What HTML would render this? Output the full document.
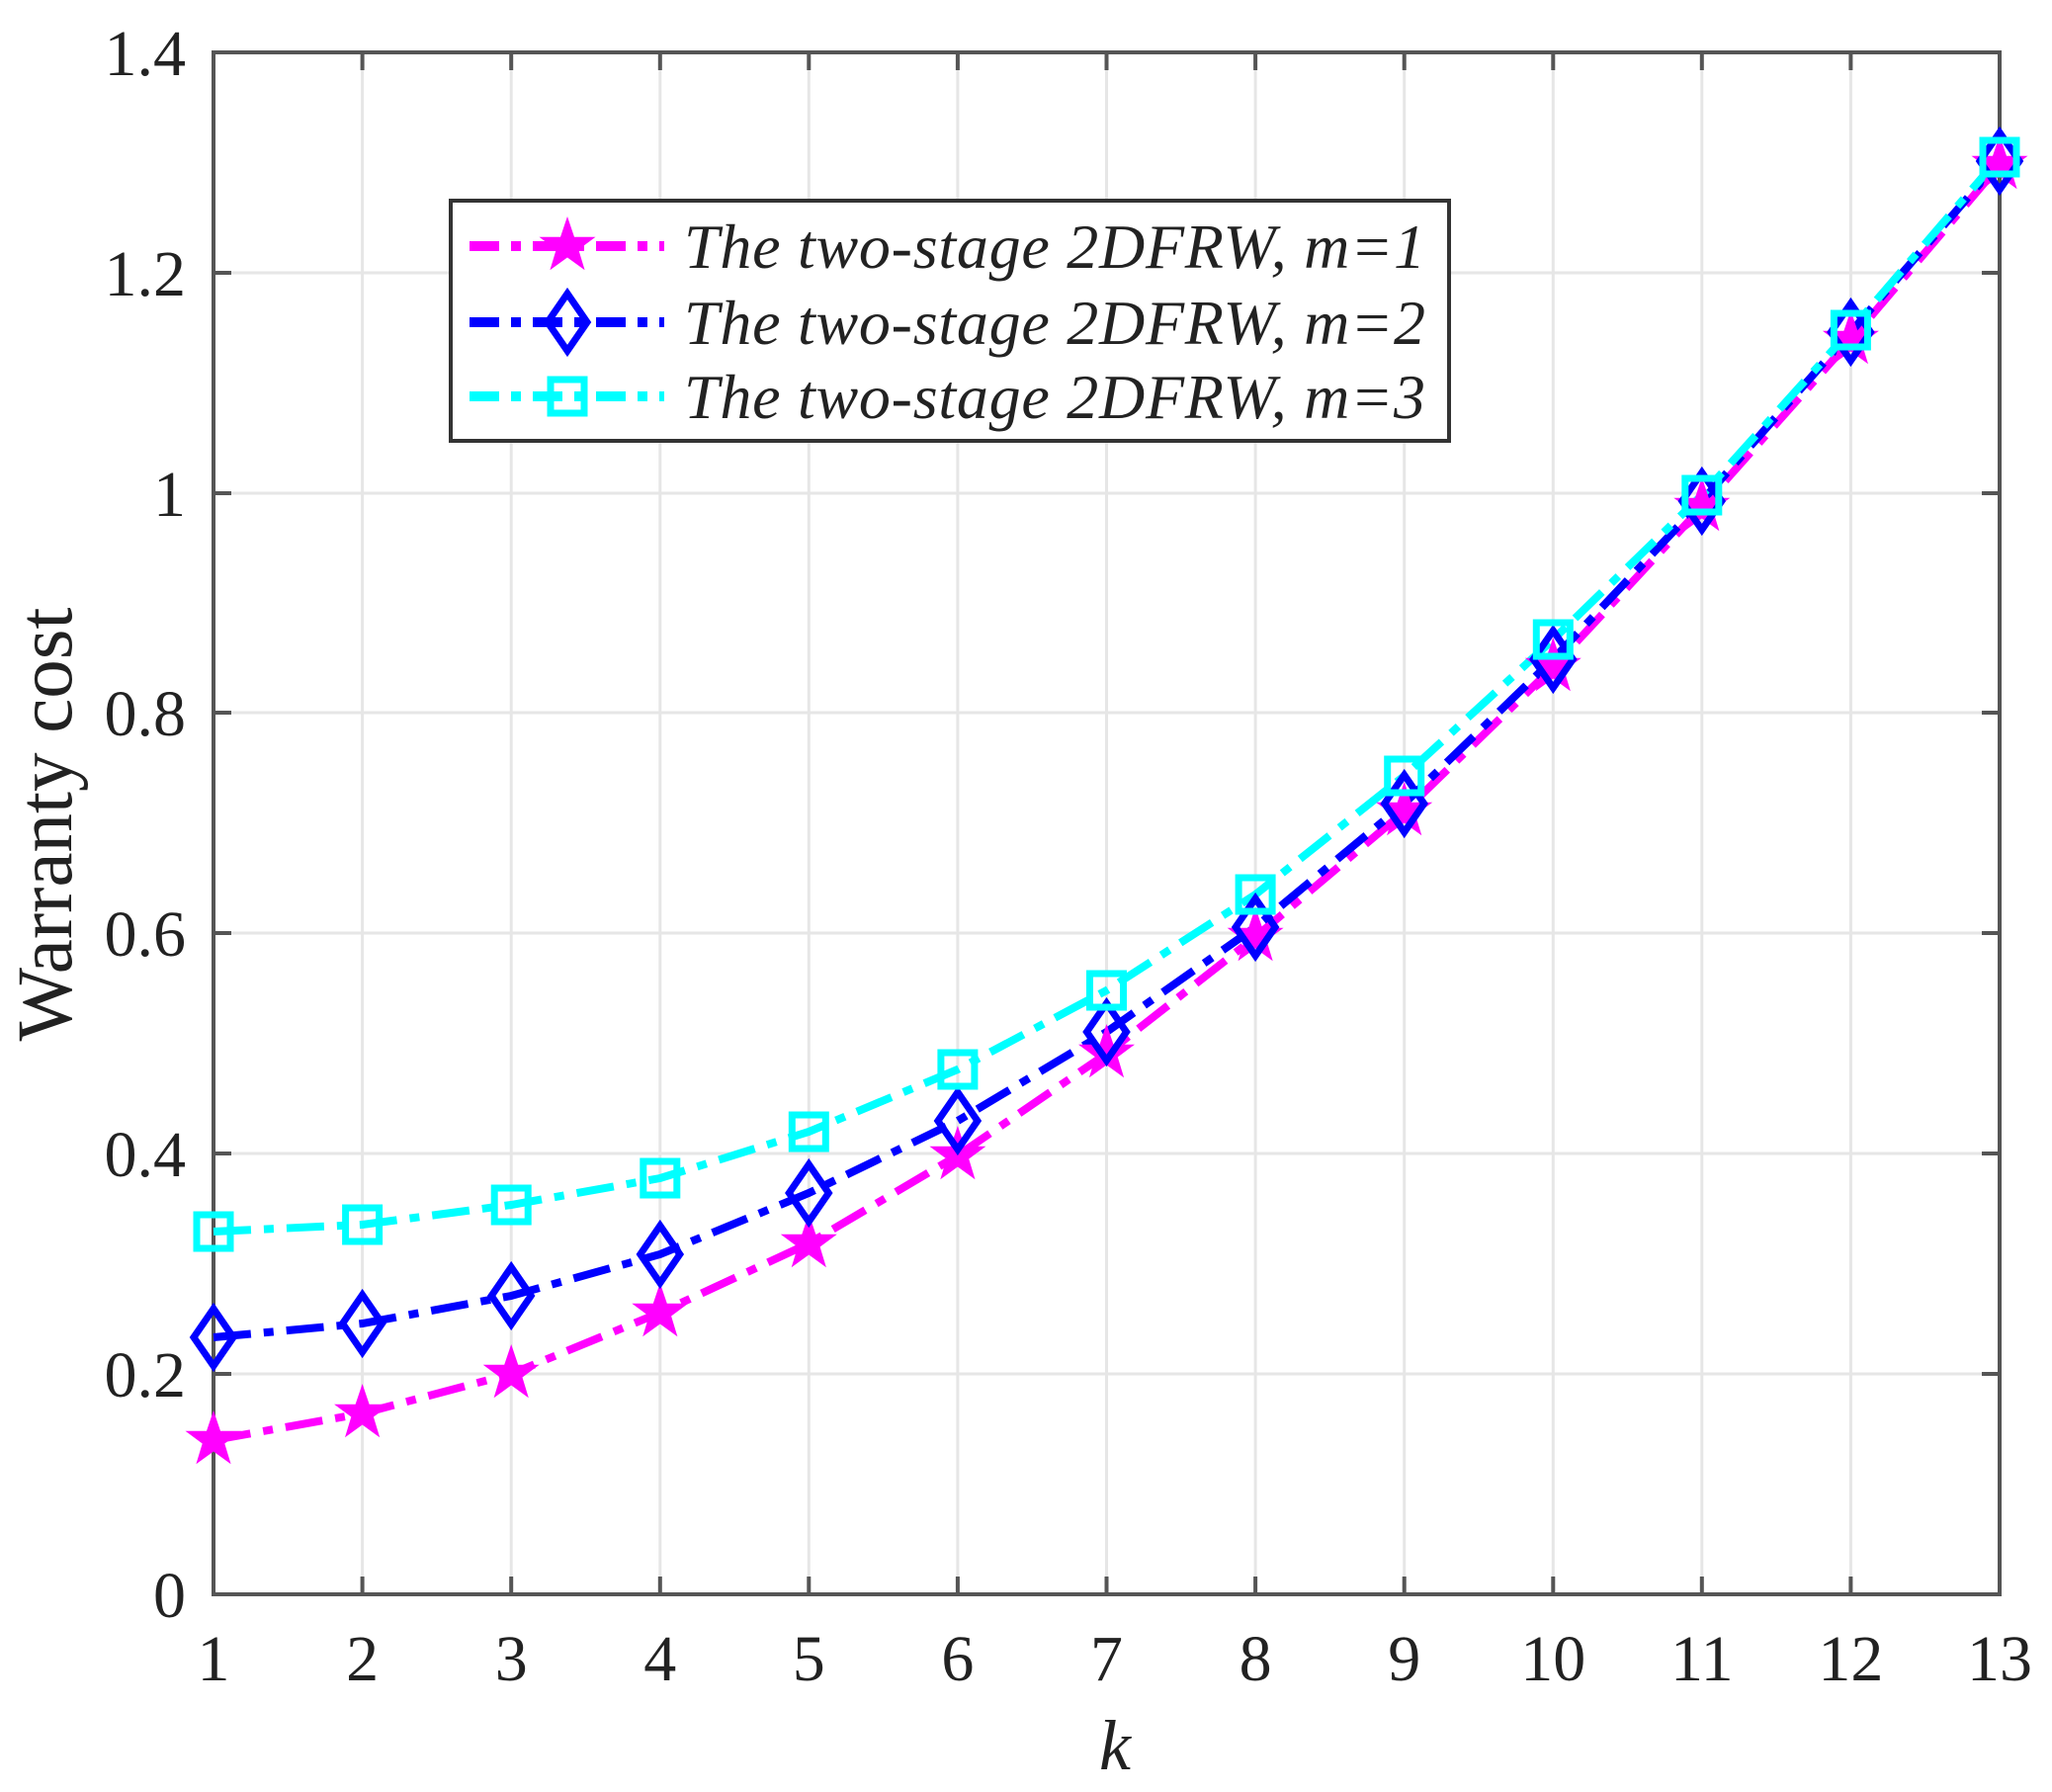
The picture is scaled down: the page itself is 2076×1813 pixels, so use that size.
<!DOCTYPE html>
<html><head><meta charset="utf-8"><style>body{margin:0;background:#fff}svg{display:block}svg text{font-family:"Liberation Serif","Times New Roman",serif}</style></head><body>
<svg width="2076" height="1813" viewBox="0 0 2076 1813" xmlns="http://www.w3.org/2000/svg" style="font-family:'Liberation Serif',serif">
<defs>
<path id="star" d="M0,-30 L7,-9.3 L28.5,-9.3 L11.3,3.5 L17.6,24.3 L0,11.5 L-17.6,24.3 L-11.3,3.5 L-28.5,-9.3 L-7,-9.3Z" fill="#ff00ff"/>
<path id="dia" d="M0,-29 L20,0 L0,29 L-20,0Z" fill="none" stroke="#0000ff" stroke-width="7"/>
<rect id="sq" x="-17" y="-17" width="34" height="34" fill="none" stroke="#00ffff" stroke-width="7"/>
</defs>
<g stroke="#e6e6e6" stroke-width="3">
<line x1="366.6" y1="53" x2="366.6" y2="1613"/><line x1="517.2" y1="53" x2="517.2" y2="1613"/><line x1="667.8" y1="53" x2="667.8" y2="1613"/><line x1="818.3" y1="53" x2="818.3" y2="1613"/><line x1="968.9" y1="53" x2="968.9" y2="1613"/><line x1="1119.5" y1="53" x2="1119.5" y2="1613"/><line x1="1270.1" y1="53" x2="1270.1" y2="1613"/><line x1="1420.7" y1="53" x2="1420.7" y2="1613"/><line x1="1571.3" y1="53" x2="1571.3" y2="1613"/><line x1="1721.8" y1="53" x2="1721.8" y2="1613"/><line x1="1872.4" y1="53" x2="1872.4" y2="1613"/>
<line x1="216" y1="276" x2="2023" y2="276"/><line x1="216" y1="499" x2="2023" y2="499"/><line x1="216" y1="721" x2="2023" y2="721"/><line x1="216" y1="944" x2="2023" y2="944"/><line x1="216" y1="1167" x2="2023" y2="1167"/><line x1="216" y1="1390" x2="2023" y2="1390"/>
</g>
<g stroke="#555" stroke-width="4">
<path d="M366.6,1613v-18M517.2,1613v-18M667.8,1613v-18M818.3,1613v-18M968.9,1613v-18M1119.5,1613v-18M1270.1,1613v-18M1420.7,1613v-18M1571.3,1613v-18M1721.8,1613v-18M1872.4,1613v-18"/>
<path d="M366.6,53v18M517.2,53v18M667.8,53v18M818.3,53v18M968.9,53v18M1119.5,53v18M1270.1,53v18M1420.7,53v18M1571.3,53v18M1721.8,53v18M1872.4,53v18"/>
<path d="M216,276h18M216,499h18M216,721h18M216,944h18M216,1167h18M216,1390h18M2023,276h-18M2023,499h-18M2023,721h-18M2023,944h-18M2023,1167h-18M2023,1390h-18"/>
<rect x="216" y="53" width="1807" height="1560" fill="none"/>
</g>
<g font-size="66" fill="#222" text-anchor="end">
<text x="188" y="76">1.4</text><text x="188" y="299">1.2</text><text x="188" y="522">1</text><text x="188" y="744">0.8</text><text x="188" y="967">0.6</text><text x="188" y="1190">0.4</text><text x="188" y="1413">0.2</text><text x="188" y="1636">0</text>
</g>
<g font-size="66" fill="#222" text-anchor="middle">
<text x="216" y="1700">1</text><text x="366.6" y="1700">2</text><text x="517.2" y="1700">3</text><text x="667.8" y="1700">4</text><text x="818.3" y="1700">5</text><text x="968.9" y="1700">6</text><text x="1119.5" y="1700">7</text><text x="1270.1" y="1700">8</text><text x="1420.7" y="1700">9</text><text x="1571.3" y="1700">10</text><text x="1721.8" y="1700">11</text><text x="1872.4" y="1700">12</text><text x="2023" y="1700">13</text>
</g>
<text x="1128" y="1790" font-size="72" font-style="italic" text-anchor="middle" fill="#222">k</text>
<text transform="translate(72,834) rotate(-90)" font-size="79" text-anchor="middle" fill="#222">Warranty cost</text>
<g fill="none" stroke-width="8" stroke-dasharray="38,13,10,13">
<polyline stroke="#ff00ff" points="216,1457 366.6,1430 517.2,1390 667.8,1328 818.3,1258 968.9,1169 1119.5,1066 1270.1,948 1420.7,821 1571.3,675 1721.8,513 1872.4,344 2023,167"/>
<polyline stroke="#0000ff" points="216,1353 366.6,1339 517.2,1311 667.8,1269 818.3,1207 968.9,1134 1119.5,1044 1270.1,938 1420.7,813 1571.3,667 1721.8,507 1872.4,336 2023,163"/>
<polyline stroke="#00ffff" points="216,1246 366.6,1239 517.2,1219 667.8,1192 818.3,1145 968.9,1082 1119.5,1002 1270.1,905 1420.7,785 1571.3,647 1721.8,501 1872.4,334 2023,159"/>
</g>
<g>
<use href="#star" x="216" y="1457"/><use href="#star" x="366.6" y="1430"/><use href="#star" x="517.2" y="1390"/><use href="#star" x="667.8" y="1328"/><use href="#star" x="818.3" y="1258"/><use href="#star" x="968.9" y="1169"/><use href="#star" x="1119.5" y="1066"/><use href="#star" x="1270.1" y="948"/><use href="#star" x="1420.7" y="821"/><use href="#star" x="1571.3" y="675"/><use href="#star" x="1721.8" y="513"/><use href="#star" x="1872.4" y="344"/><use href="#star" x="2023" y="167"/>
<use href="#dia" x="216" y="1353"/><use href="#dia" x="366.6" y="1339"/><use href="#dia" x="517.2" y="1311"/><use href="#dia" x="667.8" y="1269"/><use href="#dia" x="818.3" y="1207"/><use href="#dia" x="968.9" y="1134"/><use href="#dia" x="1119.5" y="1044"/><use href="#dia" x="1270.1" y="938"/><use href="#dia" x="1420.7" y="813"/><use href="#dia" x="1571.3" y="667"/><use href="#dia" x="1721.8" y="507"/><use href="#dia" x="1872.4" y="336"/><use href="#dia" x="2023" y="163"/>
<use href="#sq" x="216" y="1246"/><use href="#sq" x="366.6" y="1239"/><use href="#sq" x="517.2" y="1219"/><use href="#sq" x="667.8" y="1192"/><use href="#sq" x="818.3" y="1145"/><use href="#sq" x="968.9" y="1082"/><use href="#sq" x="1119.5" y="1002"/><use href="#sq" x="1270.1" y="905"/><use href="#sq" x="1420.7" y="785"/><use href="#sq" x="1571.3" y="647"/><use href="#sq" x="1721.8" y="501"/><use href="#sq" x="1872.4" y="334"/><use href="#sq" x="2023" y="159"/>
</g>
<rect x="456" y="203" width="1010" height="243" fill="#fff" stroke="#333" stroke-width="4"/>
<g fill="none" stroke-width="10" stroke-dasharray="30,12,10,12">
<line x1="475" y1="249" x2="672" y2="249" stroke="#ff00ff"/>
<line x1="475" y1="326" x2="672" y2="326" stroke="#0000ff"/>
<line x1="475" y1="401" x2="672" y2="401" stroke="#00ffff"/>
</g>
<use href="#star" x="574" y="249"/><use href="#dia" x="574" y="326"/><use href="#sq" x="574" y="401"/>
<g font-size="64" font-style="italic" fill="#222">
<text x="692" y="271" textLength="750">The two-stage 2DFRW, m=1</text>
<text x="692" y="348" textLength="750">The two-stage 2DFRW, m=2</text>
<text x="692" y="423" textLength="750">The two-stage 2DFRW, m=3</text>
</g>
</svg>
</body></html>
